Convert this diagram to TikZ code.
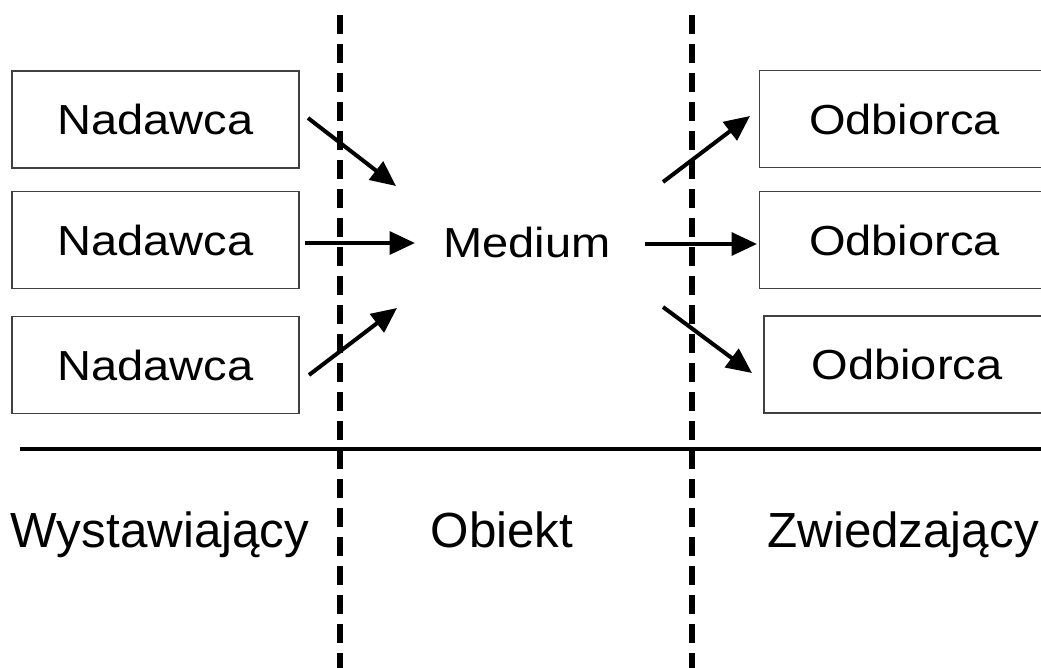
\documentclass[tikz,border=0pt]{standalone}
\usepackage{fontspec}
\setmainfont{Liberation Sans}[FakeStretch=1.12]
\newfontfamily\plainsans{Liberation Sans}
\usetikzlibrary{arrows.meta}

\begin{document}
\begin{tikzpicture}[x=0.75pt,y=0.75pt,yscale=-1,xscale=1,
  box/.style={draw=black!75, line width=1pt, minimum width=218pt, minimum height=72.75pt, inner sep=0pt},
  lbl/.style={font=\fontsize{31.5}{36}\selectfont},
  part/.style={font=\plainsans\fontsize{37}{40}\selectfont, anchor=base},
  arr/.style={line width=3pt, -{Triangle[length=19pt,width=17pt]}},
  sep/.style={line width=3.8pt, dash pattern=on 14.25pt off 7.5pt}]
\useasboundingbox (0,0) rectangle (1041,667);
\clip (0,0) rectangle (1041,667);

%Shape: Boxes left
\node[box, lbl, minimum width=215.25pt] (nad1) at (155.5,119.5) {Nadawca};
\node[box, lbl, minimum width=215.25pt] (nad2) at (155.5,240) {Nadawca};
\node[box, lbl, minimum width=215.25pt] (nad3) at (155.5,365) {Nadawca};
%Shape: Boxes right
\node[box, lbl] (odb1) at (904.5,119) {Odbiorca};
\node[box, lbl] (odb2) at (904.5,240) {Odbiorca};
\node[box, lbl, minimum width=214.5pt] (odb3) at (907,364.5) {Odbiorca};

% Text Node
\node[lbl] (medium) at (527,242) {Medium};
% Text Node
\node[part] (wyst) at (160,547) {Wystawiający};
% Text Node
\node[part] (obiekt) at (502,547) {Obiekt};
% Text Node
\node[part] (zwiedz) at (903,547) {Zwiedzający};

%Straight Lines
\coordinate (axl) at (20,449);
\coordinate (axr) at (1045,449);
\draw[line width=3.5pt] (axl) -- (axr);
\coordinate (s1t) at (340,15);
\coordinate (s1b) at (340,670);
\coordinate (s2t) at (692,15);
\coordinate (s2b) at (692,670);
\draw[sep] (s1t) -- (s1b);
\draw[sep] (s2t) -- (s2b);

%Arrows in
\coordinate (a1s) at (308,118);
\coordinate (a1e) at (396,186);
\coordinate (a2s) at (305,243);
\coordinate (a2e) at (415,243);
\coordinate (a3s) at (309,375);
\coordinate (a3e) at (397,308);
\draw[arr] (a1s) -- (a1e);
\draw[arr] (a2s) -- (a2e);
\draw[arr] (a3s) -- (a3e);
%Arrows out
\coordinate (b1s) at (663,182);
\coordinate (b1e) at (750,116);
\coordinate (b2s) at (645,244);
\coordinate (b2e) at (757,244);
\coordinate (b3s) at (663,307);
\coordinate (b3e) at (752,373);
\draw[arr] (b1s) -- (b1e);
\draw[arr] (b2s) -- (b2e);
\draw[arr] (b3s) -- (b3e);

\end{tikzpicture}
\end{document}
